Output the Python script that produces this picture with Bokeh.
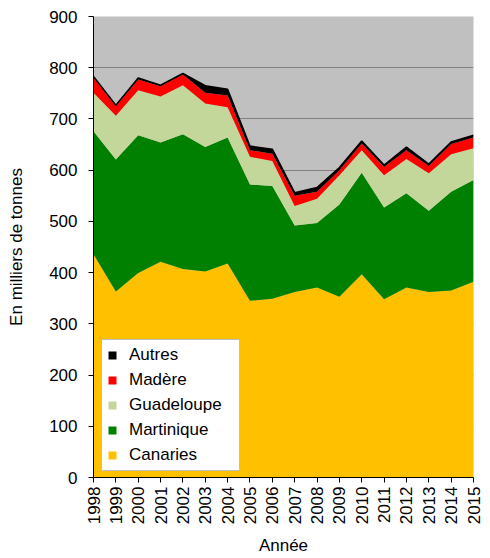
from bokeh.plotting import figure
from bokeh.models import ColumnDataSource, Range1d, FixedTicker
from bokeh.embed import file_html
from bokeh.resources import INLINE
import math

years = list(range(1998, 2016))
canaries   = [436, 363, 399, 421, 407, 402, 418, 345, 349, 362, 371, 353, 397, 348, 371, 362, 365, 382]
martinique = [240, 258, 269, 233, 263, 243, 246, 227, 220, 130, 126, 180, 198, 179, 184, 159, 193, 199]
guadeloupe = [75, 85, 88, 90, 96, 85, 59, 54, 49, 38, 47, 57, 44, 63, 67, 73, 73, 62]
madere     = [30, 19, 21, 20, 21, 21, 23, 13, 14, 20, 14, 10, 13, 16, 17, 14, 20, 21]
autres     = [2, 2, 3, 2, 2, 14, 12, 8, 9, 6, 8, 5, 5, 4, 6, 4, 4, 4]

series = ["Canaries", "Martinique", "Guadeloupe", "Madère", "Autres"]
colors = ["#FFC000", "#008000", "#C4D79B", "#FF0000", "#000000"]
y_ticks = [0, 100, 200, 300, 400, 500, 600, 700, 800, 900]

source = ColumnDataSource(dict(year=years, Canaries=canaries, Martinique=martinique,
                               Guadeloupe=guadeloupe, **{"Madère": madere}, Autres=autres))

FONT = "Liberation Sans"
FS = "17px"

p = figure(width=482, height=558, output_backend="svg", toolbar_location=None,
           x_range=Range1d(1998, 2015), y_range=Range1d(0, 900),
           min_border_left=93, min_border_right=9, min_border_top=16, min_border_bottom=80)
p.background_fill_color = "#C0C0C0"
p.border_fill_color = "white"
p.outline_line_color = None

renderers = p.varea_stack(stackers=series, x="year", color=colors, source=source,
                          legend_label=series)

# thin black line on top of the total
totals = [a + b + c + d + e for a, b, c, d, e in zip(canaries, martinique, guadeloupe, madere, autres)]
p.line(years, totals, line_color="black", line_width=1.5)

p.xgrid.grid_line_color = None
p.ygrid.grid_line_color = "#808080"
p.ygrid.grid_line_width = 1
p.ygrid.ticker = FixedTicker(ticks=y_ticks)

p.yaxis.ticker = FixedTicker(ticks=y_ticks)
p.xaxis.ticker = FixedTicker(ticks=years)
p.xaxis.major_label_orientation = math.pi / 2
for ax in (p.xaxis, p.yaxis):
    ax.axis_line_color = "black"
    ax.axis_line_width = 1
    ax.major_tick_line_color = "black"
    ax.major_tick_in = 0
    ax.major_tick_out = 5
    ax.minor_tick_line_color = None
    ax.major_label_text_font = FONT
    ax.major_label_text_font_size = FS
    ax.major_label_text_color = "black"
    ax.axis_label_text_font = FONT
    ax.axis_label_text_font_size = FS
    ax.axis_label_text_font_style = "normal"
    ax.axis_label_text_color = "black"
p.yaxis.axis_label = "En milliers de tonnes"
p.xaxis.axis_label = "Année"
p.yaxis.axis_label_standoff = 20
p.xaxis.axis_label_standoff = 9
p.yaxis.major_label_standoff = 11
p.xaxis.major_label_standoff = 4

leg = p.legend[0]
leg.items = list(reversed(leg.items))
leg.location = (8, 6)
leg.label_text_font = FONT
leg.label_text_font_size = FS
leg.label_text_color = "black"
leg.glyph_width = 10
leg.glyph_height = 10
leg.label_height = 20
leg.spacing = 5
leg.padding = 5
leg.label_standoff = 12
leg.label_width = 105
leg.border_line_color = "#808080"
leg.border_line_width = 1
leg.background_fill_color = "white"
leg.background_fill_alpha = 1

open("out.html", "w").write(file_html(p, INLINE))
